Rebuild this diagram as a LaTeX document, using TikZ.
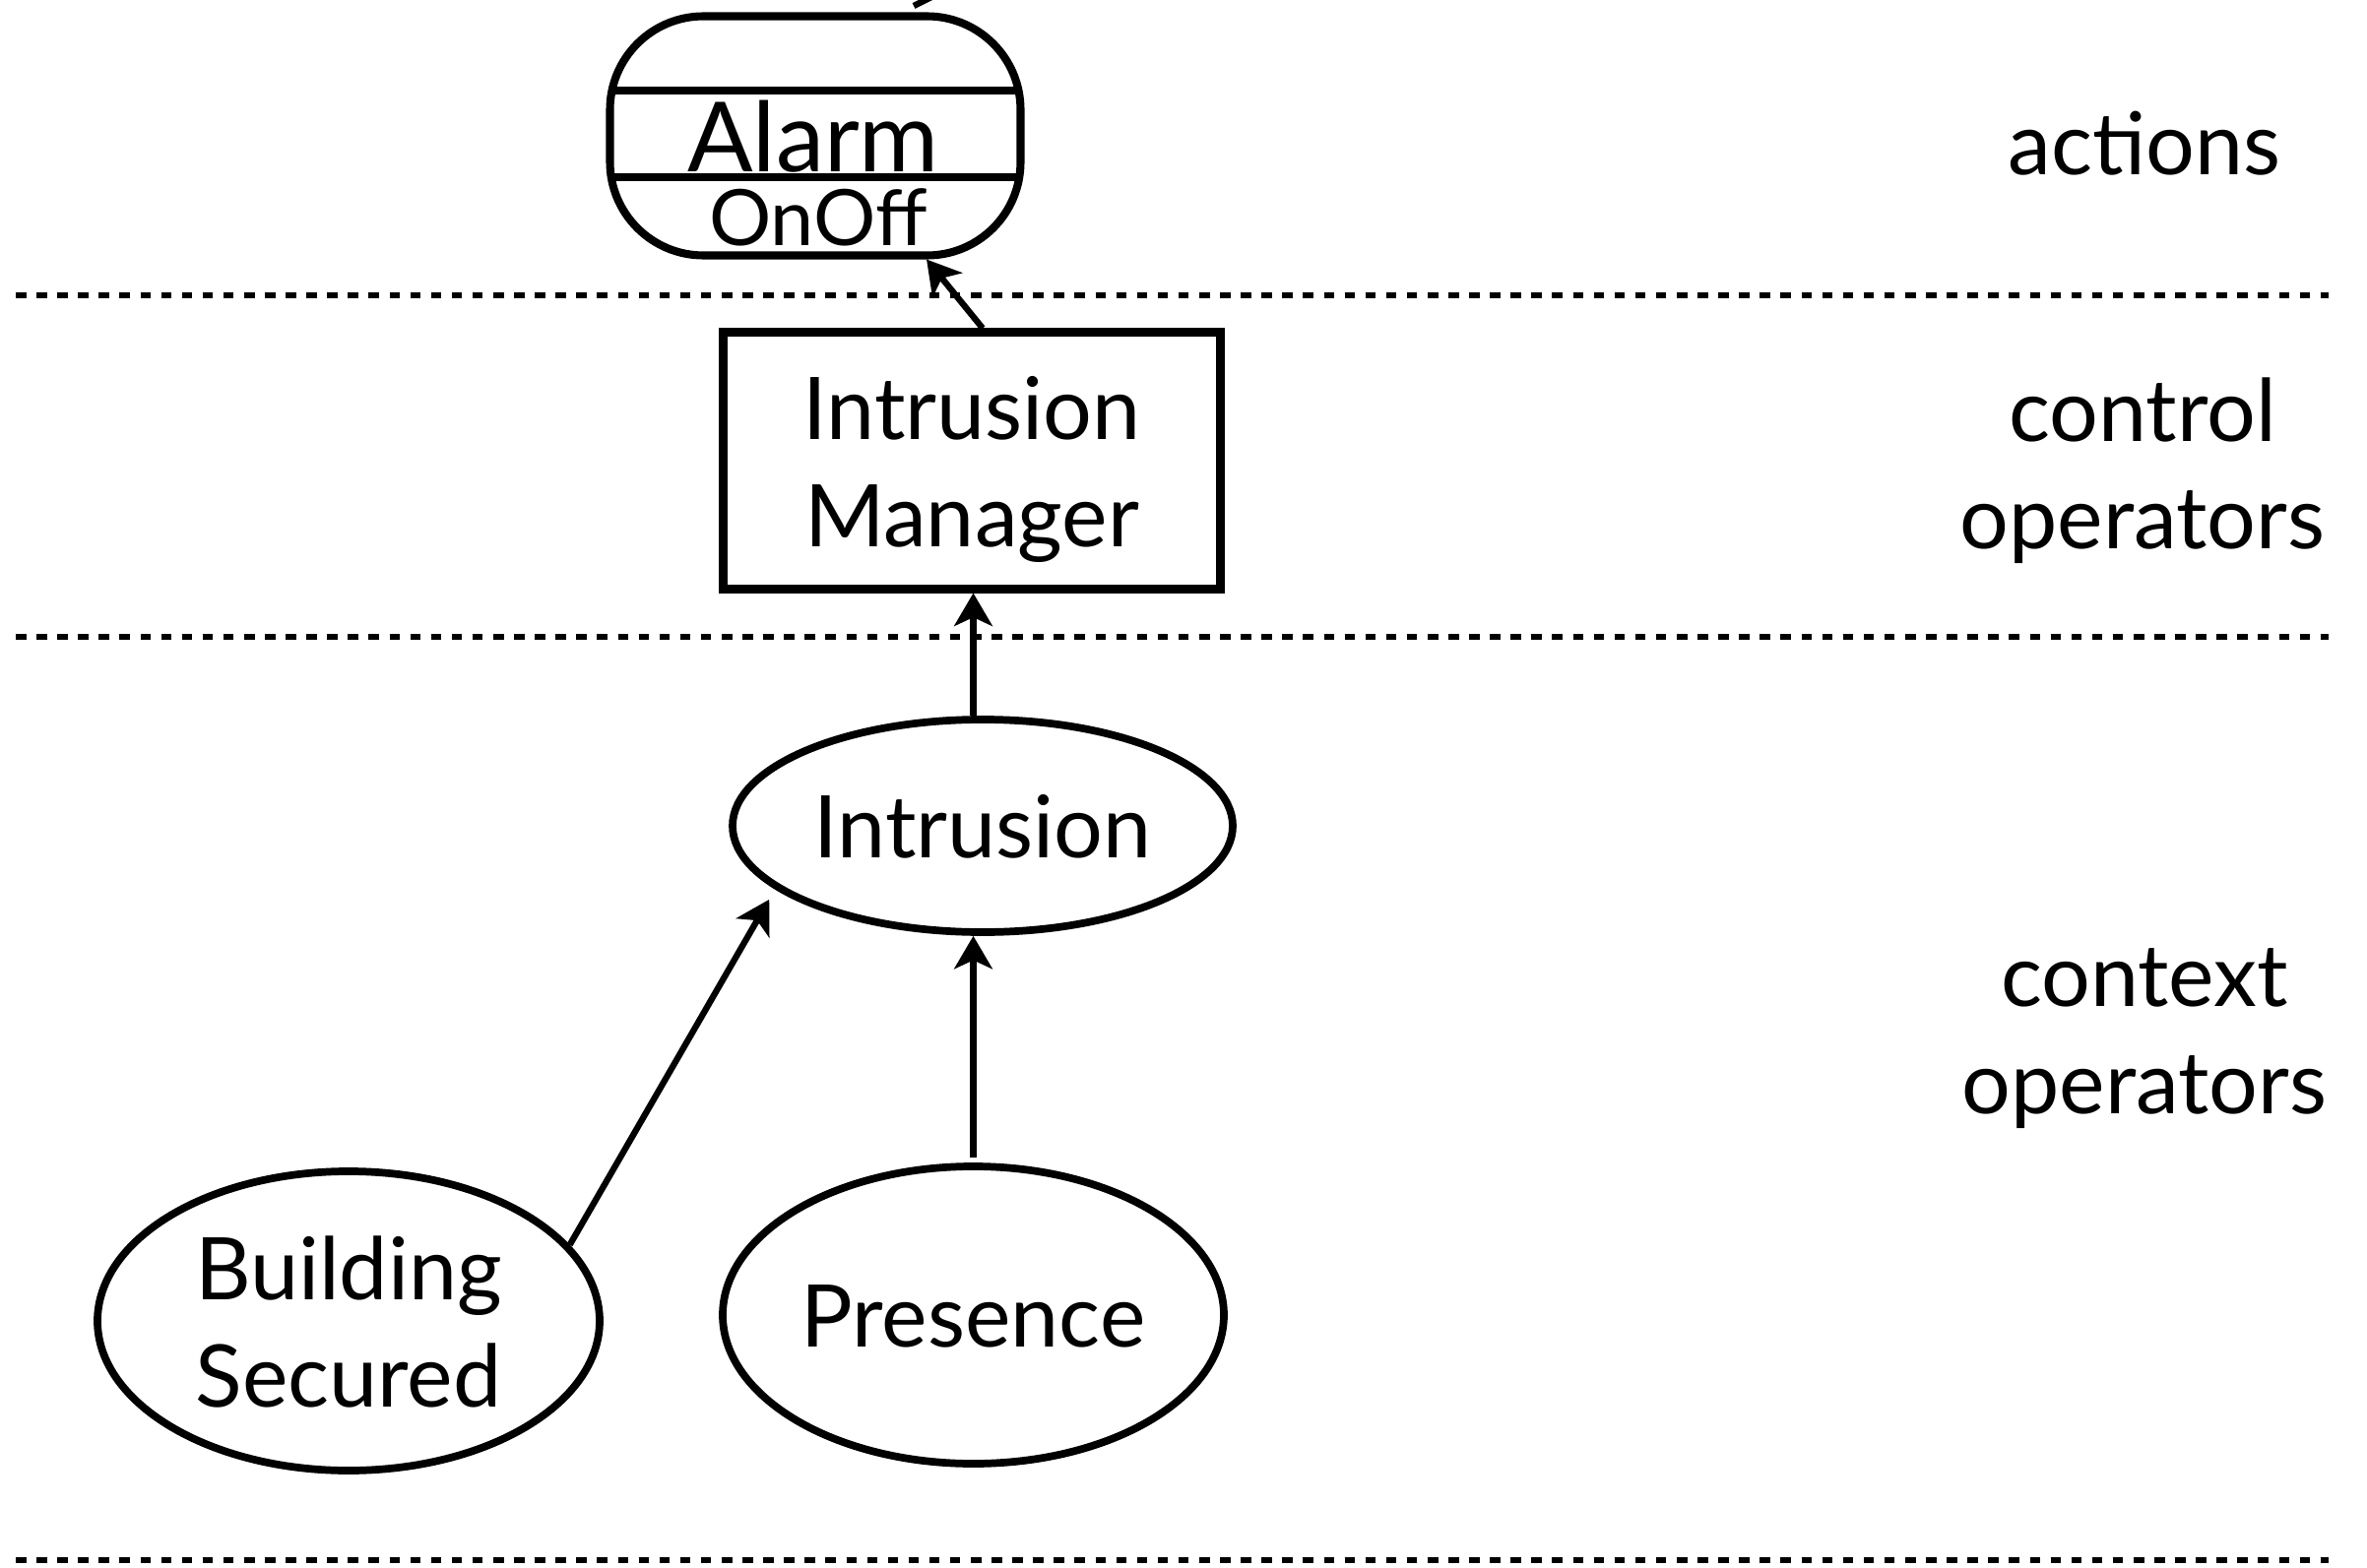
\documentclass[tikz,border=0pt]{standalone}
\usepackage{fontspec}
\setmainfont{Lato}
\usetikzlibrary{shapes.geometric,arrows.meta,calc}

\begin{document}
\begin{tikzpicture}[
  layer/.style={line width=1.5pt,dash pattern=on 3pt off 3pt},
  link/.style={line width=1.8pt,-{Stealth[length=9.5pt,width=11pt,inset=2.5pt]}},
  opnode/.style={draw,ellipse,line width=2.2pt,inner sep=0pt,align=center,
    text height=18.75pt,text depth=0pt,font=\fontsize{25}{31}\selectfont},
  twolines/.style={text height=50pt,text depth=0pt},
  ctrlbox/.style={draw,rectangle,line width=2.3pt,inner sep=0pt,align=center,
    font=\fontsize{25}{31}\selectfont},
  actbox/.style={draw,rectangle,rounded corners=0.95cm,line width=2.3pt,
    minimum width=4.17cm,minimum height=2.43cm,
    path picture={
      \draw[line width=2pt] ([yshift=-0.755cm]path picture bounding box.north west)
        -- ([yshift=-0.755cm]path picture bounding box.north east);
      \draw[line width=2pt] ([yshift=-1.635cm]path picture bounding box.north west)
        -- ([yshift=-1.635cm]path picture bounding box.north east);
    }},
  side/.style={align=center,font=\fontsize{25}{31}\selectfont}
]
  \useasboundingbox (0,0) rectangle (24.04,15.92);

  \foreach \y in {12.92,9.45,0.07}
    \draw[layer] (0.16,\y) -- (23.65,\y);

  \node[actbox] (alarm) at (8.28,14.54) {};
  \node[anchor=base,font=\fontsize{28}{34}\selectfont] (alarmname) at (8.26,14.17) {Alarm};
  \node[anchor=base,font=\fontsize{22.5}{27}\selectfont] (alarmmode) at (8.31,13.42) {OnOff};

  \node[ctrlbox,twolines,minimum width=5.05cm,minimum height=2.61cm] (im) at (9.87,11.24) {Intrusion\\Manager};
  \node[opnode,minimum width=5.08cm,minimum height=2.16cm] (intr) at (9.98,7.53) {Intrusion};
  \node[opnode,twolines,minimum width=5.10cm,minimum height=3.04cm] (build) at (3.54,2.50) {Building\\Secured};
  \node[opnode,minimum width=5.09cm,minimum height=3.02cm] (pres) at (9.885,2.56) {Presence};

  \node[side,text height=18.75pt,text depth=0pt] (actions) at (21.78,14.47) {actions};
  \node[side,twolines] (ctrl) at (21.76,11.22) {control\\operators};
  \node[side,twolines] (ctx) at (21.78,5.48) {context\\operators};

  \draw[link,shorten <=1.5pt] (pres.north) -- (pres.north |- intr.south);
  \draw[link,shorten >=3.4pt] (build.19.4) -- (intr.197.9);
  \draw[link] (intr.north -| pres.north) -- (pres.north |- im.south);
  \draw[link] ([xshift=0.11cm]im.north) -- (alarm.-48);

  \coordinate (cutlo) at (9.28,15.86);
  \coordinate (cuthi) at (9.48,15.96);
  \draw[line width=1.8pt] (cutlo) -- (cuthi);
\end{tikzpicture}
\end{document}
